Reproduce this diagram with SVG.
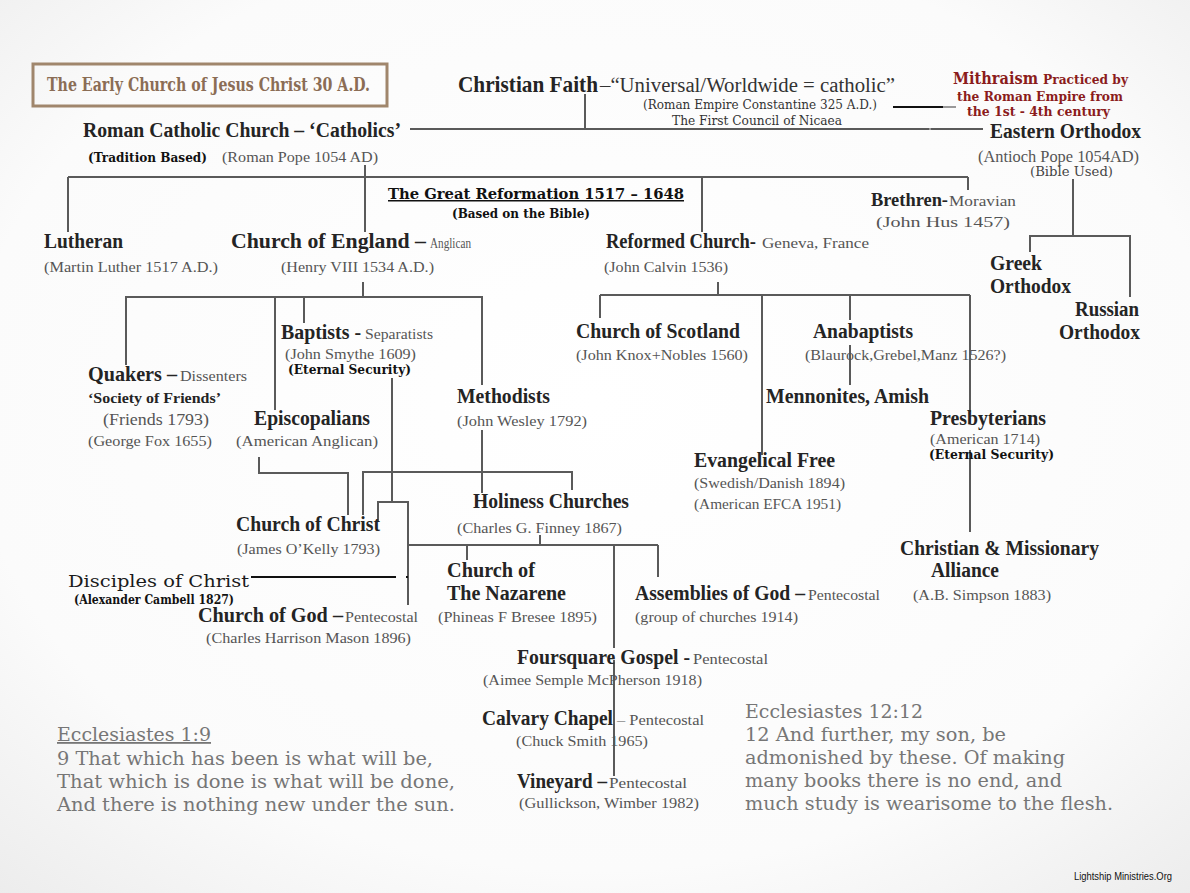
<svg xmlns="http://www.w3.org/2000/svg" width="1190" height="893" viewBox="0 0 1190 893">
<defs>
<radialGradient id="bg" cx="50%" cy="45%" r="75%">
<stop offset="0%" stop-color="#ffffff"/>
<stop offset="70%" stop-color="#fbfbfb"/>
<stop offset="100%" stop-color="#ececec"/>
</radialGradient>
<style>
.t{font-family:"Liberation Serif",serif;font-weight:bold;font-size:20px;fill:#242424}
.s{font-family:"Liberation Serif",serif;font-size:15px;fill:#555}
.n{font-family:"DejaVu Serif",serif;font-weight:bold;font-size:12px;fill:#111}
.m{font-family:"DejaVu Serif Condensed","DejaVu Serif",serif;font-size:13px;fill:#333}
.v{font-family:"DejaVu Serif Condensed","DejaVu Serif",serif;font-size:18px;fill:#767676}
.mi{font-family:"DejaVu Serif",serif;font-weight:bold;font-size:12.5px;fill:#8b1c1c}
.c line,.c polyline{stroke:#5a5a5a;stroke-width:2;fill:none}
.c .k{stroke:#111}
</style>
</defs>
<rect width="1190" height="893" fill="url(#bg)"/>

<g id="connectors" class="c">
<line x1="585" y1="94" x2="585" y2="129"/>
<line x1="410" y1="129" x2="983" y2="129"/>
<line x1="365" y1="165" x2="365" y2="232"/>
<line class="k" x1="893" y1="107" x2="943" y2="107"/>
<line x1="943" y1="107" x2="956" y2="107" style="stroke:#999"/>
<line x1="929" y1="129" x2="931" y2="129" style="stroke:#999"/>
<line x1="68" y1="177" x2="968" y2="177"/>
<line x1="68" y1="177" x2="68" y2="232"/>
<line x1="702" y1="177" x2="702" y2="232"/>
<line x1="968" y1="177" x2="968" y2="190"/>
<line x1="1073" y1="179" x2="1073" y2="236"/>
<polyline points="1030,252 1030,236 1130,236 1130,297"/>
<line x1="363" y1="282" x2="363" y2="297"/>
<polyline points="126,365 126,297 482,297 482,385"/>
<line x1="275" y1="297" x2="275" y2="410"/>
<line x1="304" y1="297" x2="304" y2="323"/>
<line x1="392" y1="378" x2="392" y2="502"/>
<polyline points="378,522 378,502 408,502 408,605"/>
<polyline points="259,457 259,473 348,473 348,515"/>
<polyline points="363,515 363,472 572,472 572,490"/>
<line x1="482" y1="430" x2="482" y2="493"/>
<line x1="540" y1="535" x2="540" y2="545"/>
<line x1="408" y1="545" x2="658" y2="545"/>
<line x1="467" y1="545" x2="467" y2="560"/>
<line x1="658" y1="545" x2="658" y2="577"/>
<line x1="614" y1="545" x2="614" y2="648"/>
<line x1="614" y1="660" x2="614" y2="776"/>
<line x1="718" y1="282" x2="718" y2="295"/>
<line x1="600" y1="295" x2="970" y2="295"/>
<line x1="600" y1="295" x2="600" y2="318"/>
<line x1="762" y1="295" x2="762" y2="455"/>
<line x1="850" y1="295" x2="850" y2="320"/>
<line x1="850" y1="345" x2="850" y2="385"/>
<line x1="970" y1="295" x2="970" y2="412"/>
<line x1="970" y1="450" x2="970" y2="532"/>
<line class="k" x1="251" y1="577" x2="396" y2="577"/>
<line class="k" x1="406" y1="577" x2="408" y2="577"/>
</g>

<g id="early-church">
<rect x="33" y="64" width="354" height="42" fill="none" stroke="#a0866c" stroke-width="3"/>
<text x="47" y="91" class="m" style="font-size:18px;font-weight:bold;fill:#8b6d55" textLength="323" lengthAdjust="spacingAndGlyphs">The Early Church of Jesus Christ 30 A.D.</text>
</g>

<g id="christian-faith">
<text x="458" y="92" class="t" style="font-size:23px" textLength="140" lengthAdjust="spacingAndGlyphs">Christian Faith</text>
<text x="600" y="92" style="font-family:'Liberation Serif',serif;font-size:20px;fill:#333" textLength="295" lengthAdjust="spacingAndGlyphs">–“Universal/Worldwide = catholic”</text>
<text x="643" y="109" class="m" textLength="234" lengthAdjust="spacingAndGlyphs">(Roman Empire Constantine 325 A.D.)</text>
<text x="672" y="125" class="m" textLength="170" lengthAdjust="spacingAndGlyphs">The First Council of Nicaea</text>
</g>

<g id="mithraism">
<text x="953" y="84" class="mi" style="font-size:16px" textLength="85" lengthAdjust="spacingAndGlyphs">Mithraism</text>
<text x="1043" y="84" class="mi" textLength="85" lengthAdjust="spacingAndGlyphs">Practiced by</text>
<text x="957" y="101" class="mi" textLength="166" lengthAdjust="spacingAndGlyphs">the Roman Empire from</text>
<text x="967" y="116" class="mi" textLength="143" lengthAdjust="spacingAndGlyphs">the 1st - 4th century</text>
</g>

<g id="roman-catholic">
<text x="83" y="137" class="t" textLength="318" lengthAdjust="spacingAndGlyphs">Roman Catholic Church – ‘Catholics’</text>
<text x="88" y="162" class="n" style="font-size:13px" textLength="119" lengthAdjust="spacingAndGlyphs">(Tradition Based)</text>
<text x="222" y="162" class="s" textLength="156" lengthAdjust="spacingAndGlyphs">(Roman Pope 1054 AD)</text>
</g>

<g id="eastern-orthodox">
<text x="990" y="138" class="t" textLength="151" lengthAdjust="spacingAndGlyphs">Eastern Orthodox</text>
<text x="978" y="162" class="s" style="font-size:16px" textLength="161" lengthAdjust="spacingAndGlyphs">(Antioch Pope 1054AD)</text>
<text x="1030" y="176" style="font-family:'DejaVu Serif',serif;font-size:13px;fill:#444" textLength="83" lengthAdjust="spacingAndGlyphs">(Bible Used)</text>
</g>

<g id="great-reformation">
<text x="388" y="199" class="n" style="font-size:15px" text-decoration="underline" textLength="296" lengthAdjust="spacingAndGlyphs">The Great Reformation 1517 – 1648</text>
<text x="452" y="218" class="n" textLength="138" lengthAdjust="spacingAndGlyphs">(Based on the Bible)</text>
</g>

<g id="brethren">
<text x="871" y="206" class="t" style="font-size:19px" textLength="77" lengthAdjust="spacingAndGlyphs">Brethren-</text>
<text x="949" y="206" class="s" style="font-size:14px" textLength="67" lengthAdjust="spacingAndGlyphs">Moravian</text>
<text x="876" y="227" class="s" textLength="134" lengthAdjust="spacingAndGlyphs">(John Hus 1457)</text>
</g>

<g id="lutheran">
<text x="44" y="248" class="t" textLength="79" lengthAdjust="spacingAndGlyphs">Lutheran</text>
<text x="44" y="272" class="s" textLength="174" lengthAdjust="spacingAndGlyphs">(Martin Luther 1517 A.D.)</text>
</g>

<g id="church-of-england">
<text x="231" y="248" class="t" textLength="195" lengthAdjust="spacingAndGlyphs">Church of England –</text>
<text x="430" y="248" class="s" style="font-size:14px" textLength="41" lengthAdjust="spacingAndGlyphs">Anglican</text>
<text x="281" y="272" class="s" textLength="153" lengthAdjust="spacingAndGlyphs">(Henry VIII 1534 A.D.)</text>
</g>

<g id="reformed-church">
<text x="606" y="248" class="t" textLength="150" lengthAdjust="spacingAndGlyphs">Reformed Church-</text>
<text x="762" y="248" class="s" style="font-size:14px" textLength="107" lengthAdjust="spacingAndGlyphs">Geneva, France</text>
<text x="604" y="272" class="s" textLength="124" lengthAdjust="spacingAndGlyphs">(John Calvin 1536)</text>
</g>

<g id="greek-orthodox">
<text x="990" y="270" class="t" textLength="52" lengthAdjust="spacingAndGlyphs">Greek</text>
<text x="990" y="293" class="t" textLength="81" lengthAdjust="spacingAndGlyphs">Orthodox</text>
</g>

<g id="russian-orthodox">
<text x="1075" y="316" class="t" textLength="64" lengthAdjust="spacingAndGlyphs">Russian</text>
<text x="1059" y="339" class="t" textLength="81" lengthAdjust="spacingAndGlyphs">Orthodox</text>
</g>

<g id="church-of-scotland">
<text x="576" y="338" class="t" textLength="164" lengthAdjust="spacingAndGlyphs">Church of Scotland</text>
<text x="576" y="360" class="s" textLength="172" lengthAdjust="spacingAndGlyphs">(John Knox+Nobles 1560)</text>
</g>

<g id="anabaptists">
<text x="813" y="338" class="t" textLength="100" lengthAdjust="spacingAndGlyphs">Anabaptists</text>
<text x="805" y="360" class="s" textLength="201" lengthAdjust="spacingAndGlyphs">(Blaurock,Grebel,Manz 1526?)</text>
</g>

<g id="baptists">
<text x="281" y="339" class="t" textLength="80" lengthAdjust="spacingAndGlyphs">Baptists -</text>
<text x="365" y="339" class="s" style="font-size:14px" textLength="68" lengthAdjust="spacingAndGlyphs">Separatists</text>
<text x="285" y="359" class="s" textLength="131" lengthAdjust="spacingAndGlyphs">(John Smythe 1609)</text>
<text x="288" y="374" class="n" textLength="123" lengthAdjust="spacingAndGlyphs">(Eternal Security)</text>
</g>

<g id="quakers">
<text x="88" y="381" class="t" textLength="89" lengthAdjust="spacingAndGlyphs">Quakers –</text>
<text x="180" y="381" class="s" style="font-size:14px" textLength="67" lengthAdjust="spacingAndGlyphs">Dissenters</text>
<text x="88" y="403" class="t" style="font-size:14px" textLength="133" lengthAdjust="spacingAndGlyphs">‘Society of Friends’</text>
<text x="103" y="425" class="s" style="font-size:17px" textLength="106" lengthAdjust="spacingAndGlyphs">(Friends 1793)</text>
<text x="88" y="446" class="s" textLength="124" lengthAdjust="spacingAndGlyphs">(George Fox 1655)</text>
</g>

<g id="methodists">
<text x="457" y="403" class="t" textLength="93" lengthAdjust="spacingAndGlyphs">Methodists</text>
<text x="457" y="426" class="s" textLength="130" lengthAdjust="spacingAndGlyphs">(John Wesley 1792)</text>
</g>

<g id="episcopalians">
<text x="254" y="425" class="t" textLength="116" lengthAdjust="spacingAndGlyphs">Episcopalians</text>
<text x="236" y="446" class="s" textLength="142" lengthAdjust="spacingAndGlyphs">(American  Anglican)</text>
</g>

<g id="mennonites">
<text x="766" y="403" class="t" textLength="163" lengthAdjust="spacingAndGlyphs">Mennonites, Amish</text>
</g>

<g id="presbyterians">
<text x="930" y="425" class="t" textLength="116" lengthAdjust="spacingAndGlyphs">Presbyterians</text>
<text x="930" y="444" class="s" textLength="110" lengthAdjust="spacingAndGlyphs">(American 1714)</text>
<text x="929" y="459" class="n" textLength="125" lengthAdjust="spacingAndGlyphs">(Eternal Security)</text>
</g>

<g id="evangelical-free">
<text x="694" y="467" class="t" textLength="141" lengthAdjust="spacingAndGlyphs">Evangelical Free</text>
<text x="694" y="488" class="s" textLength="151" lengthAdjust="spacingAndGlyphs">(Swedish/Danish 1894)</text>
<text x="694" y="509" class="s" textLength="147" lengthAdjust="spacingAndGlyphs">(American EFCA 1951)</text>
</g>

<g id="holiness-churches">
<text x="473" y="508" class="t" textLength="156" lengthAdjust="spacingAndGlyphs">Holiness Churches</text>
<text x="457" y="533" class="s" textLength="165" lengthAdjust="spacingAndGlyphs">(Charles G. Finney 1867)</text>
</g>

<g id="church-of-christ">
<text x="236" y="531" class="t" textLength="144" lengthAdjust="spacingAndGlyphs">Church of Christ</text>
<text x="237" y="554" class="s" textLength="143" lengthAdjust="spacingAndGlyphs">(James O’Kelly 1793)</text>
</g>

<g id="nazarene">
<text x="447" y="577" class="t" textLength="88" lengthAdjust="spacingAndGlyphs">Church of</text>
<text x="447" y="600" class="t" textLength="119" lengthAdjust="spacingAndGlyphs">The Nazarene</text>
<text x="438" y="622" class="s" textLength="159" lengthAdjust="spacingAndGlyphs">(Phineas F Bresee 1895)</text>
</g>

<g id="assemblies-of-god">
<text x="635" y="600" class="t" textLength="170" lengthAdjust="spacingAndGlyphs">Assemblies of God –</text>
<text x="808" y="600" class="s" style="font-size:14px" textLength="72" lengthAdjust="spacingAndGlyphs">Pentecostal</text>
<text x="635" y="622" class="s" textLength="163" lengthAdjust="spacingAndGlyphs">(group of churches 1914)</text>
</g>

<g id="christian-missionary-alliance">
<text x="900" y="555" class="t" textLength="199" lengthAdjust="spacingAndGlyphs">Christian &amp; Missionary</text>
<text x="931" y="577" class="t" textLength="68" lengthAdjust="spacingAndGlyphs">Alliance</text>
<text x="913" y="600" class="s" textLength="138" lengthAdjust="spacingAndGlyphs">(A.B. Simpson 1883)</text>
</g>

<g id="disciples-of-christ">
<text x="68" y="587" style="font-family:'DejaVu Serif',serif;font-size:17px;fill:#1a1a1a" textLength="181" lengthAdjust="spacingAndGlyphs">Disciples of Christ</text>
<text x="74" y="604" class="m" style="fill:#111;font-weight:bold" textLength="160" lengthAdjust="spacingAndGlyphs">(Alexander Cambell 1827)</text>
</g>

<g id="church-of-god">
<text x="198" y="622" class="t" textLength="145" lengthAdjust="spacingAndGlyphs">Church of God –</text>
<text x="345" y="622" class="s" style="font-size:14px" textLength="73" lengthAdjust="spacingAndGlyphs">Pentecostal</text>
<text x="206" y="643" class="s" textLength="205" lengthAdjust="spacingAndGlyphs">(Charles Harrison Mason 1896)</text>
</g>

<g id="foursquare-gospel">
<text x="517" y="664" class="t" textLength="173" lengthAdjust="spacingAndGlyphs">Foursquare Gospel -</text>
<text x="693" y="664" class="s" style="font-size:14px" textLength="75" lengthAdjust="spacingAndGlyphs">Pentecostal</text>
<text x="483" y="685" class="s" textLength="219" lengthAdjust="spacingAndGlyphs">(Aimee Semple McPherson 1918)</text>
</g>

<g id="calvary-chapel">
<text x="482" y="725" class="t" textLength="131" lengthAdjust="spacingAndGlyphs">Calvary Chapel</text>
<text x="617" y="725" class="s" style="font-size:14px" textLength="87" lengthAdjust="spacingAndGlyphs">– Pentecostal</text>
<text x="516" y="746" class="s" textLength="132" lengthAdjust="spacingAndGlyphs">(Chuck Smith 1965)</text>
</g>

<g id="vineyard">
<text x="517" y="788" class="t" textLength="90" lengthAdjust="spacingAndGlyphs">Vineyard –</text>
<text x="609" y="788" class="s" style="font-size:14px" textLength="78" lengthAdjust="spacingAndGlyphs">Pentecostal</text>
<text x="519" y="808" class="s" textLength="180" lengthAdjust="spacingAndGlyphs">(Gullickson, Wimber 1982)</text>
</g>

<g id="ecclesiastes-1-9">
<text x="57" y="741" class="v" text-decoration="underline" textLength="154" lengthAdjust="spacingAndGlyphs">Ecclesiastes 1:9</text>
<text x="57" y="765" class="v" textLength="376" lengthAdjust="spacingAndGlyphs">9 That which has been is what will be,</text>
<text x="57" y="788" class="v" textLength="398" lengthAdjust="spacingAndGlyphs">That which is done is what will be done,</text>
<text x="57" y="811" class="v" textLength="398" lengthAdjust="spacingAndGlyphs">And there is nothing new under the sun.</text>
</g>

<g id="ecclesiastes-12-12">
<text x="745" y="718" class="v" textLength="178" lengthAdjust="spacingAndGlyphs">Ecclesiastes 12:12</text>
<text x="745" y="741" class="v" textLength="261" lengthAdjust="spacingAndGlyphs">12 And further, my son, be</text>
<text x="745" y="764" class="v" textLength="320" lengthAdjust="spacingAndGlyphs">admonished by these. Of making</text>
<text x="745" y="787" class="v" textLength="317" lengthAdjust="spacingAndGlyphs">many books there is no end, and</text>
<text x="745" y="810" class="v" textLength="368" lengthAdjust="spacingAndGlyphs">much study is wearisome to the flesh.</text>
</g>

<g id="credit">
<text x="1172" y="880" text-anchor="end" style="font-family:'Liberation Sans Narrow','Liberation Sans',sans-serif;font-size:11px;fill:#111" textLength="98" lengthAdjust="spacingAndGlyphs">Lightship Ministries.Org</text>
</g>
</svg>
